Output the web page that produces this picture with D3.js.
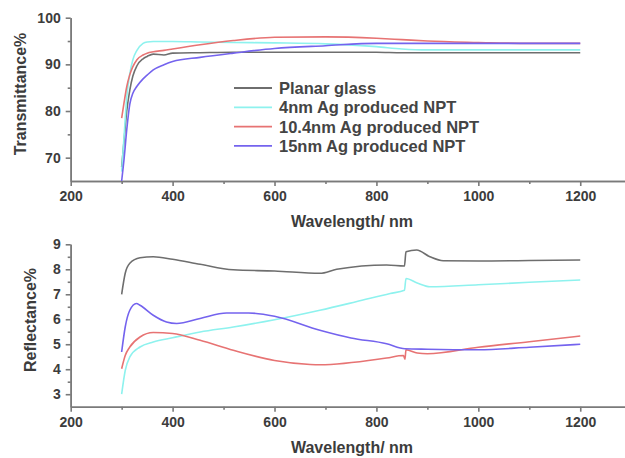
<!DOCTYPE html>
<html><head><meta charset="utf-8">
<script src="https://cdn.jsdelivr.net/npm/d3@7"></script>
<style>body{margin:0;background:#fff;} svg{display:block;}</style>
</head><body>
<svg id="c" width="625" height="458"></svg>
<script>
// ---------- DATA ----------
const seriesNames = ["Planar glass", "4nm Ag produced NPT", "10.4nm Ag produced NPT", "15nm Ag produced NPT"];
const seriesColors = ["#6e6e6e", "#8ef2ee", "#e77373", "#7463ee"];

const xTicks = [200, 400, 600, 800, 1000, 1200];
const transTicks = [70, 80, 90, 100];
const reflTicks = [3, 4, 5, 6, 7, 8, 9];

// Transmittance (%)
const transWl = [300,305,310,316,322,330,342,350,362,383,400,454,519,600,700,800,850,900,1000,1100,1200];
const transPlanar = [68,74,80,84.5,87.5,89.7,91.2,91.7,92.2,92.0,92.4,92.5,92.6,92.6,92.6,92.6,92.5,92.5,92.5,92.5,92.5];
const trans4nm    = [67,75,83,88,91,93,94.5,94.8,94.9,94.9,94.9,94.8,94.7,94.6,94.4,93.8,93.3,93.1,93.1,93.1,93.1];
const trans10nm   = [78.5,82,85.2,87.8,89.5,91,92,92.4,92.7,93.0,93.3,94.2,95.1,95.8,95.9,95.6,95.3,95.0,94.7,94.5,94.5];
const trans15nm   = [65,70,76,81.5,83.8,85.3,86.9,87.7,88.8,89.9,90.6,91.5,92.4,93.4,94.0,94.5,94.5,94.5,94.5,94.5,94.5];

// Reflectance (%)
const reflWlPlanar = [300,307,316,336,362,400,454,519,600,689,722,820,855,858,879,905,931,1000,1100,1200];
const reflPlanar   = [7.0,7.84,8.24,8.46,8.5,8.4,8.2,7.98,7.93,7.84,8.0,8.17,8.13,8.70,8.77,8.5,8.34,8.33,8.35,8.37];
const reflWl4nm = [300,307,316,336,362,400,454,519,600,689,760,827,855,858,880,905,1000,1100,1200];
const refl4nm   = [3.0,3.95,4.49,4.89,5.09,5.26,5.49,5.69,5.98,6.36,6.7,7.03,7.16,7.63,7.45,7.3,7.38,7.48,7.57];
const reflWl10nm = [300,307,316,336,362,400,454,519,600,670,689,820,853,856,858,880,900,1000,1100,1200];
const refl10nm   = [4.02,4.55,4.89,5.29,5.47,5.43,5.16,4.76,4.35,4.19,4.18,4.45,4.55,4.4,4.78,4.65,4.62,4.88,5.1,5.33];
const reflWl15nm = [300,307,316,329,336,362,388,408,454,506,549,600,689,750,820,856,900,1000,1100,1200];
const refl15nm   = [4.69,5.69,6.36,6.63,6.56,6.16,5.89,5.83,6.03,6.25,6.25,6.12,5.56,5.25,5.02,4.82,4.8,4.78,4.88,5.0];

// ---------- DRAW ----------
const svg = d3.select("#c");
const textCol = "#3c3c3c", axisCol = "#7a7a7a";
const FONT = "Arial, 'Liberation Sans', sans-serif";

const x = d3.scaleLinear().domain([200, 1300]).range([70.7, 631.2]);
const yT = d3.scaleLinear().domain([65, 100]).range([181, 17.7]);
const yR = d3.scaleLinear().domain([2.5, 9]).range([406.7, 244.3]);

function drawAxes(y, yTicks, yMinor, xTitleY, yTitle, yTitleX, yTitleY) {
  const bottom = y.range()[0];
  const gx = svg.append("g").attr("transform", `translate(0,${bottom})`);
  gx.call(d3.axisBottom(x).tickValues(xTicks).tickSize(5).tickSizeOuter(0).tickPadding(5).tickFormat(d3.format("d")));
  gx.append("g").call(d3.axisBottom(x).tickValues([300,500,700,900,1100]).tickSize(3).tickSizeOuter(0).tickFormat(""));
  const gy = svg.append("g").attr("transform", `translate(${x(200)},0)`);
  gy.call(d3.axisLeft(y).tickValues(yTicks).tickSize(5).tickSizeOuter(0).tickPadding(5).tickFormat(d3.format("d")));
  gy.append("g").call(d3.axisLeft(y).tickValues(yMinor).tickSize(3).tickSizeOuter(0).tickFormat(""));
  [gx, gy].forEach(g => {
    g.selectAll("path,line").attr("stroke", axisCol).attr("stroke-width", 1.6);
    g.selectAll("text").attr("fill", textCol).attr("font-family", FONT)
      .attr("font-size", 14).attr("font-weight", "bold");
  });
  svg.append("text").attr("x", 352).attr("y", xTitleY).attr("text-anchor", "middle")
    .attr("dominant-baseline", "central").attr("fill", textCol)
    .attr("font-family", FONT).attr("font-size", 16).attr("font-weight", "bold")
    .text("Wavelength/ nm");
  svg.append("text").attr("transform", `translate(${yTitleX},${yTitleY}) rotate(-90)`)
    .attr("text-anchor", "middle").attr("dominant-baseline", "central").attr("fill", textCol)
    .attr("font-family", FONT).attr("font-size", 16).attr("font-weight", "bold")
    .text(yTitle);
}

drawAxes(yT, transTicks, [75, 85, 95], 221, "Transmittance%", 20, 94);
drawAxes(yR, reflTicks, [3.5,4.5,5.5,6.5,7.5,8.5], 447, "Reflectance%", 30, 320);

const defs = svg.append("defs");
defs.append("clipPath").attr("id", "clipT").append("rect")
  .attr("x", x(200)).attr("y", yT(100)).attr("width", 560).attr("height", yT(65) - yT(100));
defs.append("clipPath").attr("id", "clipR").append("rect")
  .attr("x", x(200)).attr("y", yR(9.3)).attr("width", 560).attr("height", yR(2.5) - yR(9.3));

function drawSeries(y, wl, vals, color, clip) {
  const pts = wl.map((w, i) => [w, vals[i]]);
  const line = d3.line().x(d => x(d[0])).y(d => y(d[1])).curve(d3.curveMonotoneX);
  svg.append("path").datum(pts).attr("d", line).attr("fill", "none")
    .attr("stroke", color).attr("stroke-width", 1.6).attr("clip-path", `url(#${clip})`);
}

const transSeries = [transPlanar, trans4nm, trans10nm, trans15nm];
transSeries.forEach((v, i) => drawSeries(yT, transWl, v, seriesColors[i], "clipT"));

const reflWls = [reflWlPlanar, reflWl4nm, reflWl10nm, reflWl15nm];
const reflSeries = [reflPlanar, refl4nm, refl10nm, refl15nm];
reflSeries.forEach((v, i) => drawSeries(yR, reflWls[i], v, seriesColors[i], "clipR"));

const leg = svg.append("g");
seriesNames.forEach((name, i) => {
  const cy = 88 + i * 19.3;
  leg.append("line").attr("x1", 234).attr("x2", 272).attr("y1", cy).attr("y2", cy)
    .attr("stroke", seriesColors[i]).attr("stroke-width", 1.8);
  leg.append("text").attr("x", 279).attr("y", cy).attr("dominant-baseline", "central")
    .attr("fill", "#444").attr("font-family", FONT)
    .attr("font-size", 16.5).attr("font-weight", "bold").text(name);
});
</script>
</body></html>
